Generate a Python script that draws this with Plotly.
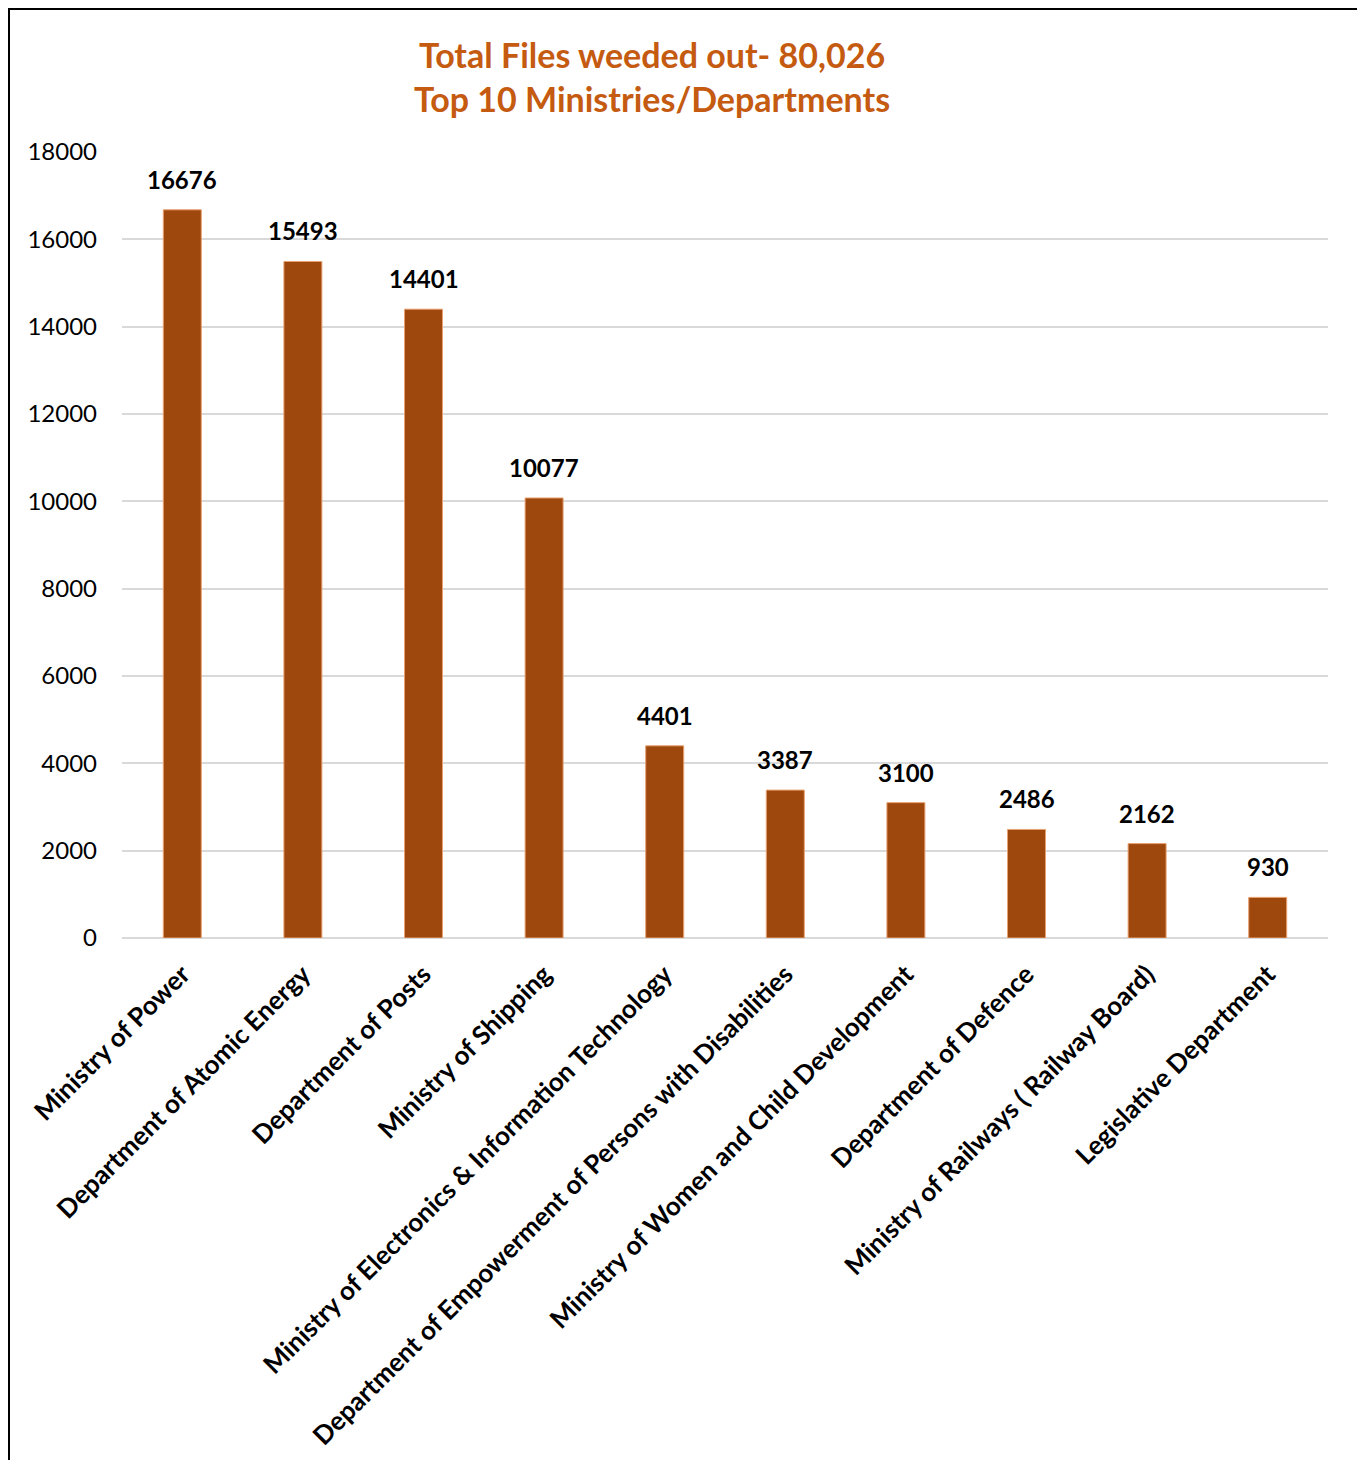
import plotly.graph_objects as go

categories = [
    "Ministry of Power",
    "Department of Atomic Energy",
    "Department of Posts",
    "Ministry of Shipping",
    "Ministry of Electronics & Information Technology",
    "Department of Empowerment of Persons with Disabilities",
    "Ministry of Women and Child Development",
    "Department of Defence",
    "Ministry of Railways ( Railway Board)",
    "Legislative Department",
]
values = [16676, 15493, 14401, 10077, 4401, 3387, 3100, 2486, 2162, 930]
y_ticks = [0, 2000, 4000, 6000, 8000, 10000, 12000, 14000, 16000, 18000]

# browser page body has an 8px margin; size the figure so the page does not scroll
W, H = 1357, 1452
L, R, T, B = 114, 37, 144, 522
pw, ph = W - L - R, H - T - B

FONT = "Lato"

fig = go.Figure(go.Bar(
    x=categories,
    y=values,
    marker=dict(color="#9E480E", line=dict(color="#E9A070", width=1)),
    cliponaxis=False,
))

for c, v in zip(categories, values):
    fig.add_annotation(
        x=c, y=v, text=str(v), showarrow=False,
        xanchor="center", yanchor="bottom", yshift=14,
        font=dict(family=FONT, size=24, color="black", weight="bold"),
    )

def fx(p):  # figure pixel x -> paper
    return (p - L) / pw

def fy(p):  # figure pixel y (from top) -> paper
    return (H - B - p) / ph

# outer chart border (bottom edge runs off the page)
fig.add_shape(type="rect", xref="paper", yref="paper",
              x0=fx(1), x1=fx(1350), y0=fy(H + 20), y1=fy(1),
              line=dict(color="black", width=2), fillcolor="rgba(0,0,0,0)", layer="below")

fig.update_layout(
    width=W, height=H,
    margin=dict(l=L, r=R, t=T, b=B, autoexpand=False),
    paper_bgcolor="white", plot_bgcolor="white",
    bargap=0.685,
    showlegend=False,
    font=dict(family=FONT, color="black"),
    title=dict(
        text="Total Files weeded out- 80,026<br>Top 10 Ministries/Departments",
        x=644 / W, xanchor="center", xref="container",
        y=1 - 60 / H, yanchor="middle", yref="container",
        font=dict(family=FONT, size=34, color="#C55A11", weight="bold"),
    ),
    xaxis=dict(
        tickangle=-45,
        tickfont=dict(family=FONT, size=26, color="black", weight="bold"),
        showgrid=False, showline=False, ticks="",
        ticklabelstandoff=15,
    ),
    yaxis=dict(
        range=[0, 18000],
        tickvals=y_ticks,
        ticktext=[str(v) for v in y_ticks],
        tickfont=dict(family=FONT, size=24, color="black"),
        showgrid=True, gridcolor="#D9D9D9", gridwidth=1.5,
        zeroline=True, zerolinecolor="#D9D9D9", zerolinewidth=2,
        showline=False, ticks="",
        ticklabelstandoff=24,
    ),
)

fig.write_html("out.html")
